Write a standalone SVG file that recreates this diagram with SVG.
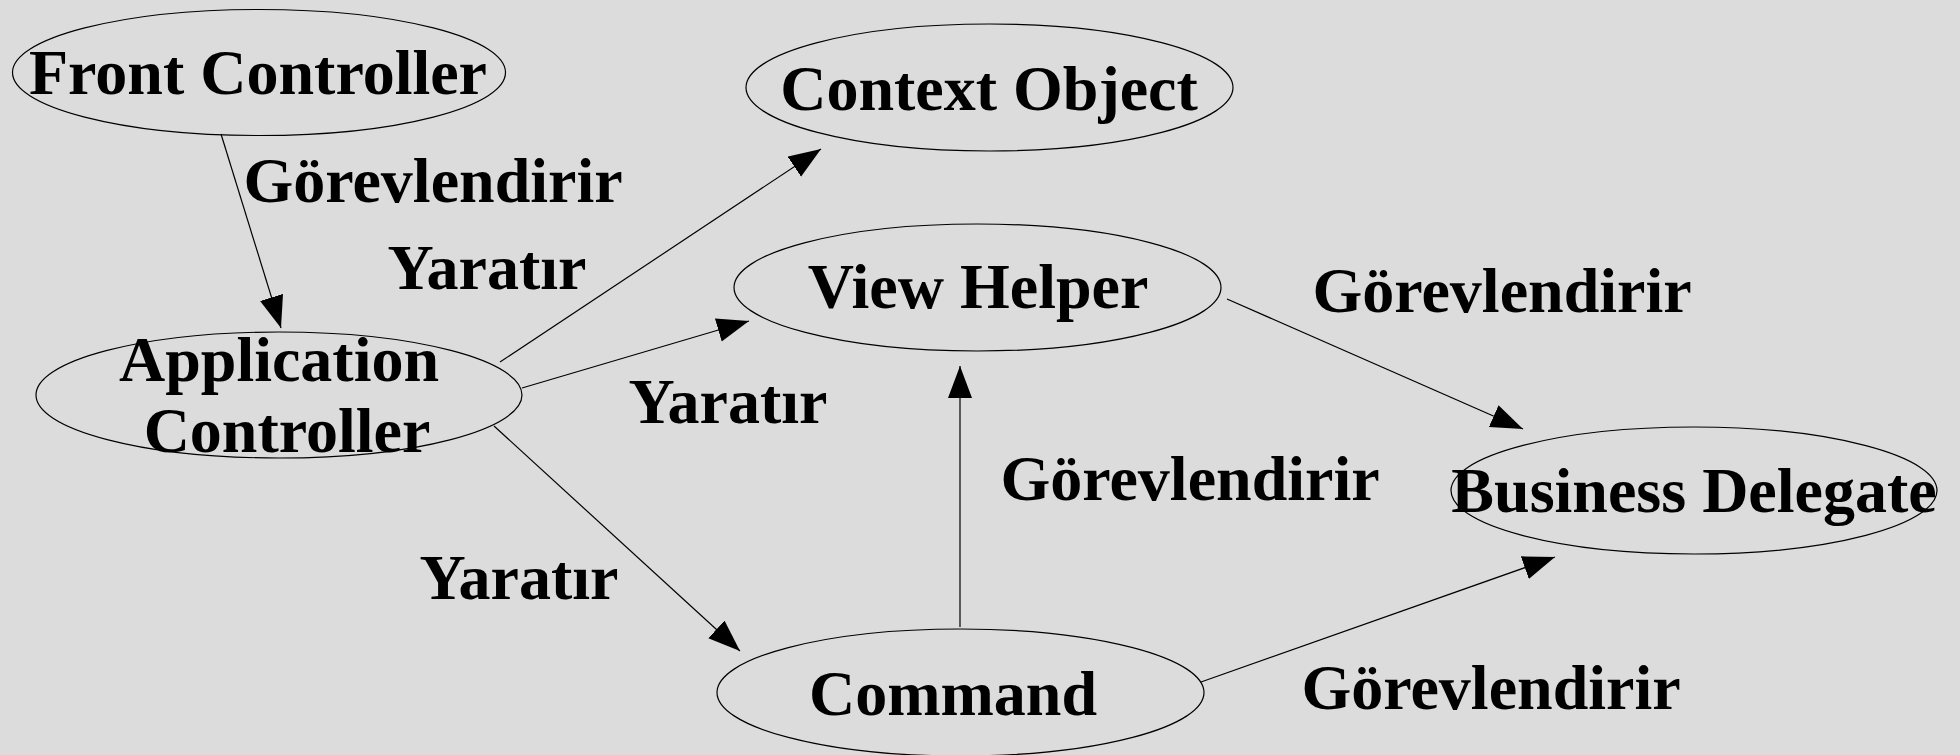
<svg xmlns="http://www.w3.org/2000/svg" width="1960" height="755" viewBox="0 0 1960 755">
<style>
.node ellipse{fill:none;stroke:#000;stroke-width:1.2}
text{font-family:"Liberation Serif","Times New Roman",serif;font-weight:bold;font-size:64px;fill:#000;text-anchor:middle}
.edges line{stroke:#000;stroke-width:1.2;marker-end:url(#arr)}
</style>
<defs>
<marker id="arr" markerUnits="userSpaceOnUse" markerWidth="34" markerHeight="26" refX="32" refY="12" orient="auto" viewBox="0 0 34 26">
<path d="M0,0 L32,12 L0,24 z" fill="#000"/>
</marker>
</defs>
<rect width="1960" height="755" fill="#dcdcdc"/>
<g class="edges" id="edges">
<line x1="221" y1="134" x2="281" y2="328"/>
<line x1="500" y1="362" x2="821" y2="149"/>
<line x1="522" y1="388" x2="749" y2="321"/>
<line x1="494" y1="426" x2="740" y2="651"/>
<line x1="960" y1="627" x2="960" y2="366"/>
<line x1="1227" y1="299" x2="1523" y2="429"/>
<line x1="1201" y1="682" x2="1555" y2="557"/>
</g>
<g id="edge-labels">
<text x="433" y="202">Görevlendirir</text>
<text x="487" y="289">Yaratır</text>
<text x="728" y="423">Yaratır</text>
<text x="519" y="599">Yaratır</text>
<text x="1190" y="500">Görevlendirir</text>
<text x="1502" y="312">Görevlendirir</text>
<text x="1491" y="709">Görevlendirir</text>
</g>
<g class="node" id="front-controller">
<ellipse cx="259" cy="72.5" rx="246.5" ry="63"/>
<text x="258" y="94">Front Controller</text>
</g>
<g class="node" id="context-object">
<ellipse cx="989.5" cy="87.5" rx="243.5" ry="63.5"/>
<text x="989" y="110">Context Object</text>
</g>
<g class="node" id="view-helper">
<ellipse cx="977.5" cy="287.5" rx="243.5" ry="63.5"/>
<text x="978" y="308">View Helper</text>
</g>
<g class="node" id="application-controller">
<ellipse cx="279" cy="395" rx="243" ry="63"/>
<text x="279" y="381">Application</text>
<text x="287" y="452">Controller</text>
</g>
<g class="node" id="business-delegate">
<ellipse cx="1694" cy="490.5" rx="243" ry="63.5"/>
<text x="1694" y="512">Business Delegate</text>
</g>
<g class="node" id="command">
<ellipse cx="960.5" cy="692.5" rx="243.5" ry="63.5"/>
<text x="953" y="715">Command</text>
</g>
</svg>
